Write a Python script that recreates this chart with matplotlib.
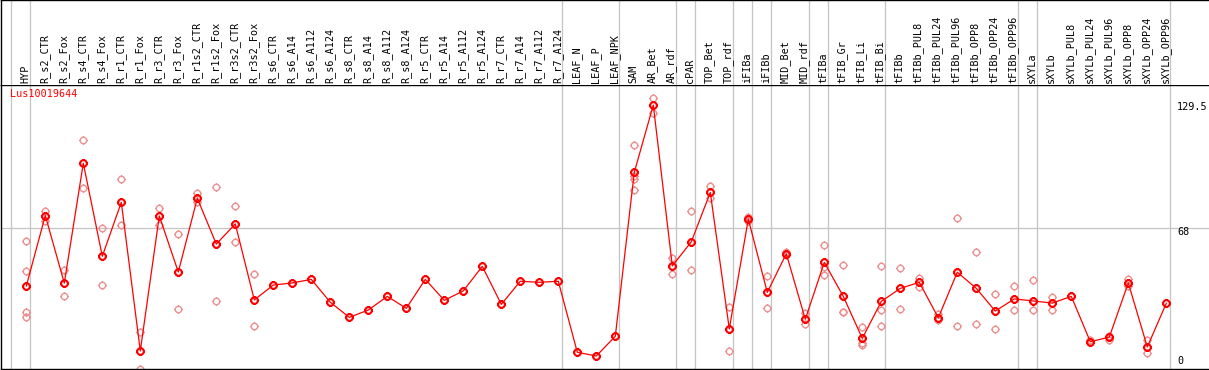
import matplotlib
matplotlib.use("Agg")
import matplotlib.pyplot as plt
import matplotlib.transforms as mtransforms
from matplotlib.path import Path

gene = "Lus10019644"

samples = ["HYP", "R_s2_CTR", "R_s2_Fox", "R_s4_CTR", "R_s4_Fox", "R_r1_CTR", "R_r1_Fox",
           "R_r3_CTR", "R_r3_Fox", "R_r1s2_CTR", "R_r1s2_Fox", "R_r3s2_CTR", "R_r3s2_Fox",
           "R_s6_CTR", "R_s6_A14", "R_s6_A112", "R_s6_A124", "R_s8_CTR", "R_s8_A14",
           "R_s8_A112", "R_s8_A124", "R_r5_CTR", "R_r5_A14", "R_r5_A112", "R_r5_A124",
           "R_r7_CTR", "R_r7_A14", "R_r7_A112", "R_r7_A124", "LEAF_N", "LEAF_P", "LEAF_NPK",
           "SAM", "AR_Bet", "AR_rdf", "cPAR", "TOP_Bet", "TOP_rdf", "iFIBa", "iFIBb",
           "MID_Bet", "MID_rdf", "tFIBa", "tFIB_Gr", "tFIB_Li", "tFIB_Bi", "tFIBb",
           "tFIBb_PUL8", "tFIBb_PUL24", "tFIBb_PUL96", "tFIBb_OPP8", "tFIBb_OPP24",
           "tFIBb_OPP96", "sXYLa", "sXYLb", "sXYLb_PUL8", "sXYLb_PUL24", "sXYLb_PUL96",
           "sXYLb_OPP8", "sXYLb_OPP24", "sXYLb_OPP96"]

means = [40.2, 73.8, 41.6, 98.7, 54.4, 80.1, 9.3, 73.6, 46.9, 82.0, 60.2, 69.8, 33.6,
         40.7, 41.7, 43.4, 32.5, 25.3, 28.8, 35.3, 29.6, 43.4, 33.4, 37.9, 49.6,
         31.5, 42.5, 42.0, 42.5, 8.7, 6.9, 16.3, 94.4, 126.4, 49.8, 61.3, 84.8, 19.8,
         72.1, 37.2, 55.6, 24.4, 51.5, 35.3, 15.3, 32.9, 39.1, 42.0, 25.1, 46.8, 39.1,
         28.3, 34.1, 33.1, 32.1, 35.3, 13.7, 15.9, 41.7, 11.2, 32.0]

# single replicates (light circles)
reps = {
    "HYP": [61.7, 47.4, 28.0, 25.6],
    "R_s2_CTR": [76.0, 71.0],
    "R_s2_Fox": [47.9, 35.5],
    "R_s4_CTR": [109.6, 87.0],
    "R_s4_Fox": [67.9, 40.7],
    "R_r1_CTR": [91.0, 69.1],
    "R_r1_Fox": [18.5, 0.9],
    "R_r3_CTR": [77.2, 69.3],
    "R_r3_Fox": [64.9, 29.3],
    "R_r1s2_CTR": [84.5, 80.1],
    "R_r1s2_Fox": [87.2, 33.1],
    "R_r3s2_CTR": [78.3, 61.0],
    "R_r3s2_Fox": [45.8, 21.0],
    "SAM": [107.4, 92.6, 91.0, 86.0],
    "AR_Bet": [130.0, 122.5],
    "AR_rdf": [53.4, 45.8],
    "cPAR": [75.8, 47.7],
    "TOP_Bet": [87.7, 82.0],
    "TOP_rdf": [30.4, 9.3],
    "iFIBa": [73.2, 71.0],
    "iFIBb": [44.9, 29.6],
    "MID_Bet": [56.6, 55.0],
    "MID_rdf": [27.5, 22.0],
    "tFIBa": [59.7, 49.5, 45.4],
    "tFIB_Gr": [50.1, 28.0, 27.7],
    "tFIB_Li": [20.5, 13.0, 12.1],
    "tFIB_Bi": [49.6, 28.7, 21.0],
    "tFIBb": [48.6, 29.1],
    "tFIBb_PUL8": [43.9, 39.9],
    "tFIBb_PUL24": [26.9, 24.0],
    "tFIBb_PUL96": [72.5, 21.0],
    "tFIBb_OPP8": [56.3, 22.0],
    "tFIBb_OPP24": [36.3, 20.0],
    "tFIBb_OPP96": [40.1, 28.7],
    "sXYLa": [42.9, 28.7],
    "sXYLb": [34.8, 28.9],
    "sXYLb_PUL24": [14.7, 13.4],
    "sXYLb_PUL96": [16.5, 14.7],
    "sXYLb_OPP8": [43.6, 40.1],
    "sXYLb_OPP24": [14.7, 8.2],
}

# group separators come after these sample indices
group_ends = [-1, 0, 28, 31, 34, 35, 37, 38, 39, 41, 42, 45, 52, 53, 60]
y_ticks = [129.5, 68, 0]
y_max = 129.5
mid_line = 68

W, H = 1209, 370
fig = plt.figure(figsize=(W / 100, H / 100), dpi=100)
mono = "DejaVu Sans Mono"
grey = "#c4c4c4"
light = "#ee9090"

# circle with little ticks, like the original markers
circ = Path.unit_circle()
tk = 1.3
tick_path = Path([(0, 1), (0, tk), (0, -1), (0, -tk), (1, 0), (tk, 0), (-1, 0), (-tk, 0)],
                 [Path.MOVETO, Path.LINETO] * 4)
gear = Path.make_compound_path(circ, tick_path)

xlim = ((1 - 26.3) / 19, (W - 26.3) / 19)
ylim = ((370.5 - 368.5) / 2.1, (370.5 - 85) / 2.1)

ax = fig.add_axes([1 / W, 1.5 / H, (W - 1) / W, 283.5 / H])
hx = fig.add_axes([1 / W, 285 / H, (W - 1) / W, 85 / H])

for a in (ax, hx):
    a.set_xlim(*xlim)
    a.set_xticks([])
    a.set_yticks([])
    a.spines["right"].set_visible(False)
    for s in ("left", "top", "bottom"):
        a.spines[s].set_color("black")
        a.spines[s].set_linewidth(1.0)
    for g in group_ends:
        a.axvline(g + 0.2, color=grey, lw=0.9, zorder=0)
hx.spines["bottom"].set_visible(False)
hx.set_ylim(0, 1)
ax.set_ylim(*ylim)

ax.axhline(mid_line, color=grey, lw=0.9, zorder=0)

# header labels
for i, s in enumerate(samples):
    hx.text(i - 0.05, 0.025, s, rotation=90, ha="center", va="bottom",
            fontsize=7.3, family=mono, color="black")

# replicates
for i, s in enumerate(samples):
    if s in reps:
        vals = reps[s]
        ax.plot([i] * len(vals), vals, linestyle="none", marker=gear, ms=6.0,
                mfc="none", mec=light, mew=1.0, zorder=2)

x = list(range(len(samples)))
ax.plot(x, means, color="red", lw=0.9, zorder=3)
ax.plot(x, means, linestyle="none", marker=gear, ms=6.2, mfc="none", mec="red",
        mew=1.5, zorder=4)

ax.annotate(gene, xy=(0, 1), xycoords="axes fraction", xytext=(9, -4),
            textcoords="offset pixels", ha="left", va="top", fontsize=7.3,
            family=mono, color="red")

# value labels on the right
trans = mtransforms.blended_transform_factory(ax.transAxes, ax.transData)
for v in y_ticks:
    if v == 0:
        ax.annotate("0", xy=(1176 / (W - 1), 0), xycoords=("axes fraction", "axes fraction"),
                    xytext=(0, 2), textcoords="offset pixels", ha="left", va="bottom",
                    fontsize=7.3, family=mono, color="black")
    else:
        ax.annotate(f"{v:g}", xy=(1176 / (W - 1), v), xycoords=trans,
                    xytext=(0, -3 if v == y_max else 1), textcoords="offset pixels",
                    ha="left", va="top", fontsize=7.3, family=mono, color="black",
                    annotation_clip=False)

fig.savefig("out.png", dpi=100)
